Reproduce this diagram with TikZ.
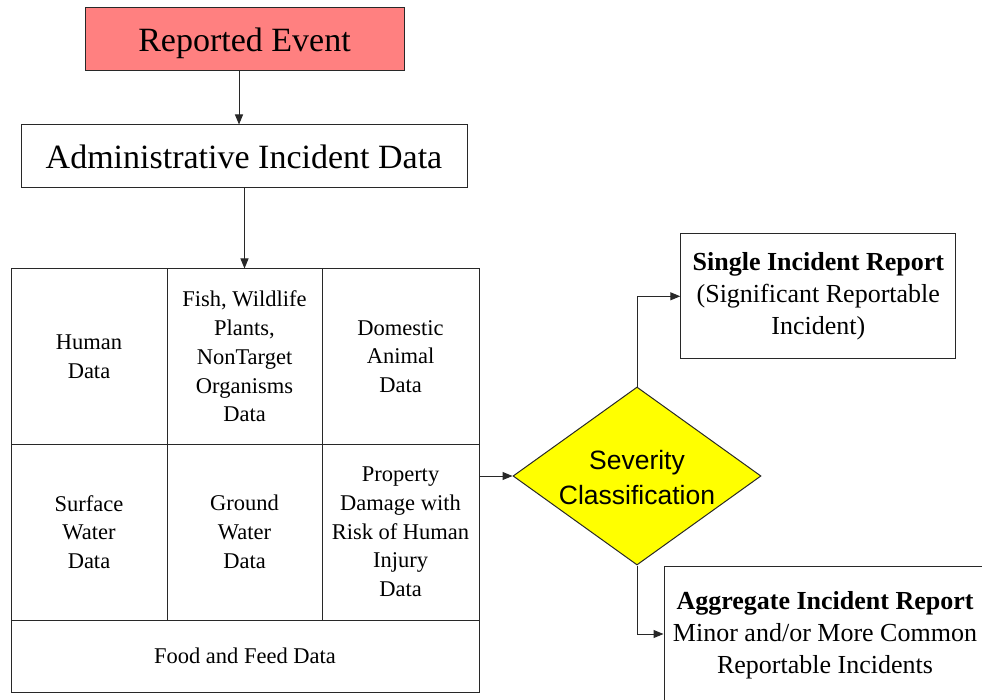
\documentclass[tikz,border=0pt]{standalone}
\usepackage{fontspec}
\setmainfont{Liberation Serif}
\newfontfamily\sevfont{Liberation Sans}
\usetikzlibrary{arrows.meta,shapes.geometric,calc}
\definecolor{evred}{RGB}{255,128,128}
\definecolor{linegray}{RGB}{40,40,40}
\definecolor{sevyellow}{RGB}{255,255,0}
\tikzset{
  box/.style={draw=linegray,line width=1pt,rectangle,inner sep=0pt,align=center},
  bigtext/.style={font=\fontsize{34}{40}\selectfont},
  celltext/.style={font=\fontsize{22.5}{28.7}\selectfont},
  reptext/.style={font=\fontsize{26}{32}\selectfont},
  arr/.style={draw=linegray,line width=1pt,-{Triangle[length=10pt,width=8pt]}},
}
\begin{document}
\begin{tikzpicture}[x=1pt,y=-1pt]
\useasboundingbox (0,0) rectangle (982,700);
\clip (0,0) rectangle (982,700);
% top boxes
\node[box,fill=evred,bigtext,text depth=0pt,minimum width=319pt,minimum height=63pt] (rep) at (244.5,39.5) {Reported Event};
\node[box,bigtext,text depth=0pt,minimum width=446pt,minimum height=63pt] (adm) at (244,156.5) {Administrative Incident Data};
% grid
\node[box,celltext,minimum width=156pt,minimum height=175pt] (c11) at (89,356.5) {Human\\Data};
\node[box,celltext,minimum width=155pt,minimum height=175pt] (c12) at (244.5,356.5) {Fish, Wildlife\\Plants,\\NonTarget\\Organisms\\Data};
\node[box,celltext,minimum width=157pt,minimum height=175pt] (c13) at (400.5,356.5) {Domestic\\Animal\\Data};
\node[box,celltext,minimum width=156pt,minimum height=176pt] (c21) at (89,532) {Surface\\Water\\Data};
\node[box,celltext,minimum width=155pt,minimum height=176pt] (c22) at (244.5,532) {Ground\\Water\\Data};
\node[box,celltext,minimum width=157pt,minimum height=176pt] (c23) at (400.5,532) {Property\\Damage with\\Risk of Human\\Injury\\Data};
\node[box,celltext,minimum width=468pt,minimum height=72pt] (food) at (245,656) {Food and Feed Data};
% diamond
\node[draw=linegray,line width=1pt,fill=sevyellow,diamond,inner sep=0pt,minimum width=248pt,minimum height=178pt] (sev) at (637,476) {};
\node[align=center,font=\sevfont\fontsize{26.5}{35}\selectfont,inner sep=0pt] (sevt) at (637,478) {Severity\\Classification};
% reports
\node[box,reptext,minimum width=275pt,minimum height=125pt] (sing) at (818.3,296.3) {\textbf{Single Incident Report}\\(Significant Reportable\\Incident)};
\node[box,minimum width=326pt,minimum height=154pt] (agg) at (827,643) {};
\node[reptext,align=center,inner sep=0pt] (aggt) at (825,635) {\textbf{Aggregate Incident Report}\\Minor and/or More Common\\Reportable Incidents};
% connectors
\draw[arr] ([xshift=-5.5pt]rep.south) -- ([xshift=-5.5pt]rep.south |- adm.north);
\draw[arr] (adm.south -| c12.north) -- (c12.north);
\draw[arr] (c23.east |- sev.west) -- (sev.west);
\draw[arr] (sev.north) |- (sing.west);
\draw[arr] (sev.south) |- (agg.west |- 0,634);
\end{tikzpicture}
\end{document}
